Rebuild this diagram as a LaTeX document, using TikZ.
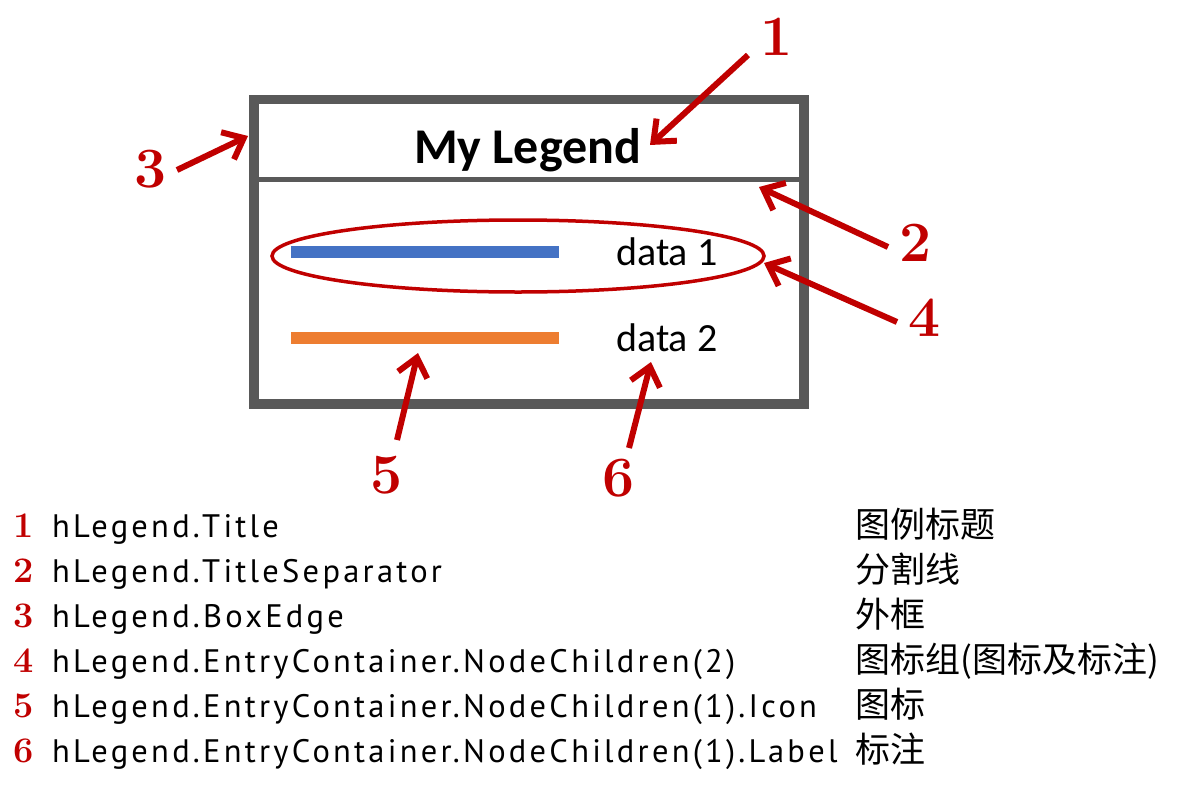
\documentclass[tikz,border=0pt]{standalone}
\usepackage{fontspec}
\newfontfamily\calibri{Carlito}
\newfontfamily\listfont[LetterSpace=10]{PT Sans}
\newfontfamily\cjk{Noto Sans CJK SC}
\usetikzlibrary{arrows.meta,positioning}
\definecolor{boxgray}{HTML}{595959}
\definecolor{markred}{HTML}{C00000}
\definecolor{lineblue}{HTML}{4472C4}
\definecolor{lineorange}{HTML}{ED7D31}

\tikzset{
  callout/.style={markred, line width=6pt, -{Straight Barb[length=18pt,width=30pt]}},
  num/.style={markred, inner sep=0pt, font=\fontsize{57}{57}\selectfont\bfseries},
  listnum/.style={markred, inner sep=0pt, anchor=base, font=\fontsize{36}{36}\selectfont\bfseries},
  listtext/.style={inner sep=0pt, anchor=base west, font=\fontsize{32.5}{32.5}\selectfont\listfont},
  cjktext/.style={inner sep=0pt, anchor=base west, font=\fontsize{35}{35}\selectfont\cjk},
  entry/.style={inner sep=0pt, anchor=base west, font=\fontsize{40}{40}\selectfont\calibri},
}

\begin{document}
\begin{tikzpicture}[x=1pt, y=-1pt]
    \useasboundingbox (0,0) rectangle (1198,784);

    % Legend box
    \draw[boxgray, line width=9.5pt] (254,99.5) rectangle (804,404);
    \draw[boxgray, line width=5pt] (254,179.5) -- (804,179.5);
    \node[inner sep=0pt, anchor=base, font=\fontsize{50}{50}\selectfont\calibri\bfseries] (title) at (527.5,163) {My Legend};

    % Entries
    \draw[lineblue, line width=12pt] (291,252) -- (559,252);
    \node[entry] (data1) at (616,265) {data 1};
    \draw[lineorange, line width=12pt] (291,338) -- (559,338);
    \node[entry] (data2) at (616,351) {data 2};
    \draw[markred, line width=3.5pt] (518,256) ellipse [x radius=246pt, y radius=36pt];

    % Callout numbers
    \node[num] (n1) at (777,37) {1};
    \node[num] (n2) at (916,243) {2};
    \node[num] (n3) at (151,169) {3};
    \node[num] (n4) at (925,318) {4};
    \node[num] (n5) at (387,475) {5};
    \node[num] (n6) at (619,478) {6};

    \coordinate (a1) at (748,55);   \coordinate (t1) at (650,145);
    \coordinate (a2) at (888,247);  \coordinate (t2) at (759,187);
    \coordinate (a3) at (177,170);  \coordinate (t3) at (248,136);
    \coordinate (a4) at (897,322);  \coordinate (t4) at (764,263);
    \coordinate (a5) at (397,440);  \coordinate (t5) at (418,353);
    \coordinate (a6) at (629,448);  \coordinate (t6) at (651,362);

    \draw[callout] (a1) -- (t1);
    \draw[callout] (a2) -- (t2);
    \draw[callout] (a3) -- (t3);
    \draw[callout] (a4) -- (t4);
    \draw[callout] (a5) -- (t5);
    \draw[callout] (a6) -- (t6);

    % Property list
    \node[listnum] (k1) at (24,537) {1};
    \node[listtext] (l1) at (52,537) {hLegend.Title};
    \node[cjktext] (c1) at (855,537) {图例标题};

    \node[listnum] (k2) at (24,582) {2};
    \node[listtext] (l2) at (52,582) {hLegend.TitleSeparator};
    \node[cjktext] (c2) at (855,582) {分割线};

    \node[listnum] (k3) at (24,627) {3};
    \node[listtext] (l3) at (52,627) {hLegend.BoxEdge};
    \node[cjktext] (c3) at (855,627) {外框};

    \node[listnum] (k4) at (24,672) {4};
    \node[listtext] (l4) at (52,672) {hLegend.EntryContainer.NodeChildren(2)};
    \node[cjktext] (c4) at (855,672) {图标组(图标及标注)};

    \node[listnum] (k5) at (24,717) {5};
    \node[listtext] (l5) at (52,717) {hLegend.EntryContainer.NodeChildren(1).Icon};
    \node[cjktext] (c5) at (855,717) {图标};

    \node[listnum] (k6) at (24,762) {6};
    \node[listtext] (l6) at (52,762) {hLegend.EntryContainer.NodeChildren(1).Label};
    \node[cjktext] (c6) at (855,762) {标注};

\end{tikzpicture}
\end{document}
